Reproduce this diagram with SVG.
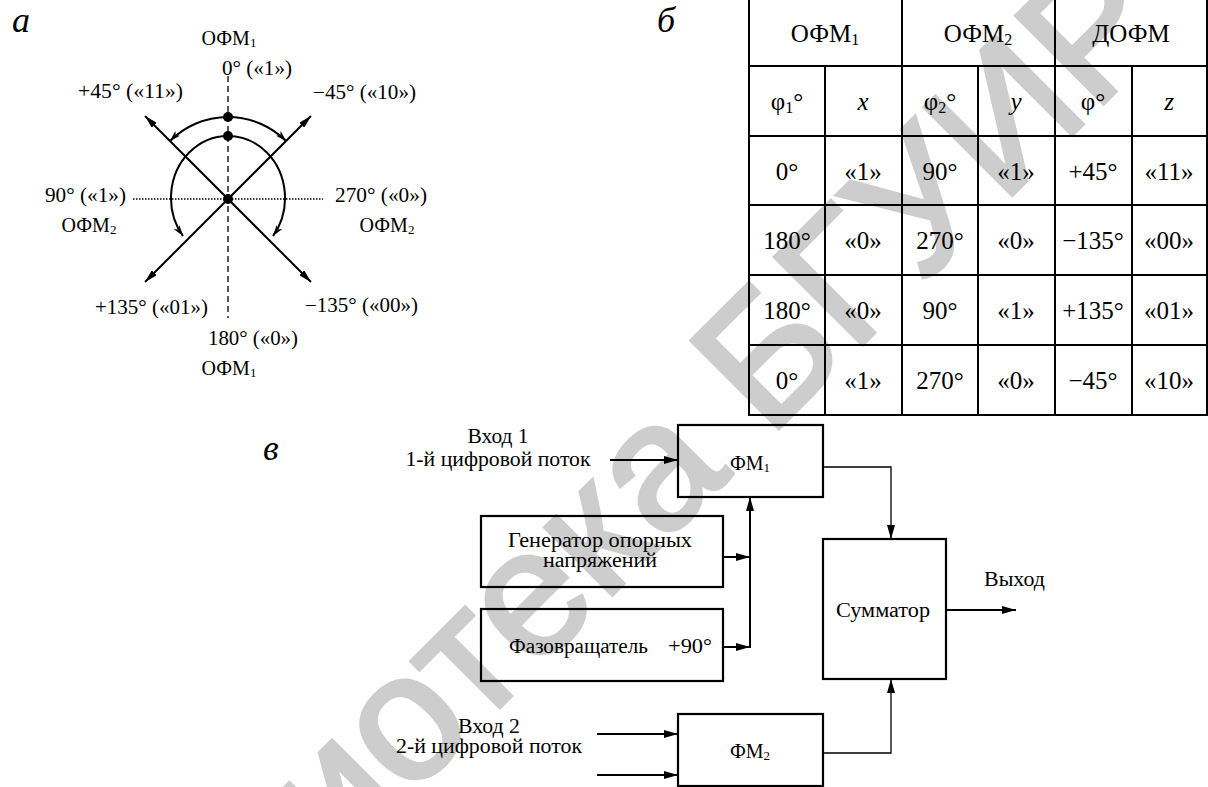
<svg xmlns="http://www.w3.org/2000/svg" width="1208" height="787" viewBox="0 0 1208 787" font-family="'Liberation Serif', 'Times New Roman', serif">
<defs>
<style>
text, tspan {font-family:'Liberation Serif','Times New Roman',serif}
text{fill:#000}
.t20{font-size:20px}
.tb{font-size:25px}
.lbl{font-size:36px;font-style:italic}
.ln{stroke:#000;stroke-width:2;fill:none}
.thin{stroke:#000;stroke-width:1.3;fill:none}
.box{stroke:#000;stroke-width:2.2;fill:none}
text.wm{font-family:'Liberation Sans',Arial,sans-serif;font-size:180px;fill:#cdcdcd;stroke:#cdcdcd;stroke-width:4}
</style>
<marker id="ah" viewBox="0 0 14 8" markerWidth="14" markerHeight="8" refX="14" refY="4" orient="auto" markerUnits="userSpaceOnUse"><path d="M0,0 L14,4 L0,8 z" fill="#000"/></marker>
<marker id="ahs" viewBox="0 0 13 7" markerWidth="13" markerHeight="7" refX="13" refY="3.5" orient="auto-start-reverse" markerUnits="userSpaceOnUse"><path d="M0,0 L13,3.5 L0,7 z" fill="#000"/></marker>
<marker id="aha" viewBox="0 0 11 7" markerWidth="11" markerHeight="7" refX="11" refY="3.5" orient="auto-start-reverse" markerUnits="userSpaceOnUse"><path d="M0,0 L11,3.5 L0,7 L3,3.5 z" fill="#000"/></marker>
</defs>
<rect width="1208" height="787" fill="#fff"/>
<g id="watermark"><text class="wm" transform="translate(41,1166) rotate(-45)">Библиотека БГУИР</text></g>

<g id="panel-a">
<text class="lbl" x="12" y="32">а</text>
<line x1="228" y1="76" x2="228" y2="318" stroke="#000" stroke-width="1.3" stroke-dasharray="6,4"/>
<line x1="133" y1="199" x2="323" y2="199" stroke="#000" stroke-width="1.5" stroke-dasharray="1.5,1.5"/>
<path class="ln" d="M170,141 A82,82 0 0 1 286,141" marker-start="url(#aha)" marker-end="url(#aha)"/>
<path class="ln" d="M183,236 A57,62 0 1 1 273,236" marker-start="url(#aha)" marker-end="url(#aha)"/>
<line class="ln" x1="145" y1="116" x2="311" y2="282" marker-start="url(#ahs)" marker-end="url(#ahs)"/>
<line class="ln" x1="311" y1="116" x2="145" y2="282" marker-start="url(#ahs)" marker-end="url(#ahs)"/>
<circle cx="228" cy="117" r="5"/>
<circle cx="228" cy="136" r="5"/>
<circle cx="228" cy="199" r="5"/>
<text class="t20" x="229" y="45" text-anchor="middle">ОФМ<tspan font-size="13" dy="2">1</tspan></text>
<text class="t20" x="222" y="75" textLength="70" lengthAdjust="spacingAndGlyphs">0° («1»)</text>
<text class="t20" x="78" y="98" textLength="105" lengthAdjust="spacingAndGlyphs">+45° («11»)</text>
<text class="t20" x="313" y="99" textLength="103" lengthAdjust="spacingAndGlyphs">−45° («10»)</text>
<text class="t20" x="45" y="202" textLength="81" lengthAdjust="spacingAndGlyphs">90° («1»)</text>
<text class="t20" x="335" y="202" textLength="92" lengthAdjust="spacingAndGlyphs">270° («0»)</text>
<text class="t20" x="89" y="232" text-anchor="middle">ОФМ<tspan font-size="13" dy="2">2</tspan></text>
<text class="t20" x="387" y="232" text-anchor="middle">ОФМ<tspan font-size="13" dy="2">2</tspan></text>
<text class="t20" x="95" y="314" textLength="113" lengthAdjust="spacingAndGlyphs">+135° («01»)</text>
<text class="t20" x="305" y="312" textLength="113" lengthAdjust="spacingAndGlyphs">−135° («00»)</text>
<text class="t20" x="208" y="345" textLength="90" lengthAdjust="spacingAndGlyphs">180° («0»)</text>
<text class="t20" x="229" y="375" text-anchor="middle">ОФМ<tspan font-size="13" dy="2">1</tspan></text>
</g>

<g id="panel-b">
<text class="lbl" x="657" y="32">б</text>
<g id="table-grid" stroke="#000" stroke-width="2" fill="none">
<line x1="749" y1="0" x2="749" y2="416"/>
<line x1="825" y1="66" x2="825" y2="416"/>
<line x1="902" y1="0" x2="902" y2="416"/>
<line x1="978" y1="66" x2="978" y2="416"/>
<line x1="1055" y1="0" x2="1055" y2="416"/>
<line x1="1132" y1="66" x2="1132" y2="416"/>
<line x1="1207" y1="0" x2="1207" y2="416"/>
<line x1="748" y1="66" x2="1208" y2="66"/>
<line x1="748" y1="136" x2="1208" y2="136"/>
<line x1="748" y1="205" x2="1208" y2="205"/>
<line x1="748" y1="275" x2="1208" y2="275"/>
<line x1="748" y1="345" x2="1208" y2="345"/>
<line x1="748" y1="415" x2="1208" y2="415"/>
</g>
<g id="table-text">
<text class="tb" x="825" y="42" text-anchor="middle">ОФМ<tspan font-size="16" dy="3">1</tspan></text>
<text class="tb" x="978" y="42" text-anchor="middle">ОФМ<tspan font-size="16" dy="3">2</tspan></text>
<text class="tb" x="1131" y="42" text-anchor="middle">ДОФМ</text>
<text class="tb" x="787" y="110" text-anchor="middle">φ<tspan font-size="16" dy="3">1</tspan><tspan dy="-3">°</tspan></text>
<text class="tb" x="863" y="110" text-anchor="middle" font-style="italic">x</text>
<text class="tb" x="940" y="110" text-anchor="middle">φ<tspan font-size="16" dy="3">2</tspan><tspan dy="-3">°</tspan></text>
<text class="tb" x="1016" y="110" text-anchor="middle" font-style="italic">y</text>
<text class="tb" x="1093" y="110" text-anchor="middle">φ°</text>
<text class="tb" x="1169" y="110" text-anchor="middle" font-style="italic">z</text>

<text class="tb" x="787" y="180" text-anchor="middle">0°</text>
<text class="tb" x="863" y="180" text-anchor="middle">«1»</text>
<text class="tb" x="940" y="180" text-anchor="middle">90°</text>
<text class="tb" x="1016" y="180" text-anchor="middle">«1»</text>
<text class="tb" x="1093" y="180" text-anchor="middle">+45°</text>
<text class="tb" x="1169" y="180" text-anchor="middle">«11»</text>

<text class="tb" x="787" y="249" text-anchor="middle">180°</text>
<text class="tb" x="863" y="249" text-anchor="middle">«0»</text>
<text class="tb" x="940" y="249" text-anchor="middle">270°</text>
<text class="tb" x="1016" y="249" text-anchor="middle">«0»</text>
<text class="tb" x="1093" y="249" text-anchor="middle">−135°</text>
<text class="tb" x="1169" y="249" text-anchor="middle">«00»</text>

<text class="tb" x="787" y="319" text-anchor="middle">180°</text>
<text class="tb" x="863" y="319" text-anchor="middle">«0»</text>
<text class="tb" x="940" y="319" text-anchor="middle">90°</text>
<text class="tb" x="1016" y="319" text-anchor="middle">«1»</text>
<text class="tb" x="1093" y="319" text-anchor="middle">+135°</text>
<text class="tb" x="1169" y="319" text-anchor="middle">«01»</text>

<text class="tb" x="787" y="389" text-anchor="middle">0°</text>
<text class="tb" x="863" y="389" text-anchor="middle">«1»</text>
<text class="tb" x="940" y="389" text-anchor="middle">270°</text>
<text class="tb" x="1016" y="389" text-anchor="middle">«0»</text>
<text class="tb" x="1093" y="389" text-anchor="middle">−45°</text>
<text class="tb" x="1169" y="389" text-anchor="middle">«10»</text>
</g>
</g>

<g id="panel-c">
<text class="lbl" x="263" y="460">в</text>
<g id="fm1"><rect class="box" x="678" y="425" width="145" height="72"/><text class="t20" x="750" y="470" text-anchor="middle">ФМ<tspan font-size="13" dy="2">1</tspan></text></g>
<g id="gen"><rect class="box" x="481" y="516" width="242" height="71"/><text class="t20" x="600" y="547" text-anchor="middle" textLength="184" lengthAdjust="spacingAndGlyphs">Генератор опорных</text><text class="t20" x="600" y="567" text-anchor="middle" textLength="114" lengthAdjust="spacingAndGlyphs">напряжений</text></g>
<g id="phase"><rect class="box" x="481" y="609" width="242" height="72"/><text class="t20" x="509" y="653" textLength="139" lengthAdjust="spacingAndGlyphs">Фазовращатель</text><text class="t20" x="668" y="653" textLength="44" lengthAdjust="spacingAndGlyphs">+90°</text></g>
<g id="fm2"><rect class="box" x="678" y="714" width="145" height="72"/><text class="t20" x="750" y="758" text-anchor="middle">ФМ<tspan font-size="13" dy="2">2</tspan></text></g>
<g id="sum"><rect class="box" x="823" y="539" width="123" height="140"/><text class="t20" x="883" y="617" text-anchor="middle" textLength="94" lengthAdjust="spacingAndGlyphs">Сумматор</text></g>
<g id="in1"><text class="t20" x="498" y="443" text-anchor="middle" textLength="61" lengthAdjust="spacingAndGlyphs">Вход 1</text><text class="t20" x="498" y="466" text-anchor="middle" textLength="185" lengthAdjust="spacingAndGlyphs">1-й цифровой поток</text></g>
<g id="in2"><text class="t20" x="489" y="733" text-anchor="middle" textLength="62" lengthAdjust="spacingAndGlyphs">Вход 2</text><text class="t20" x="489" y="753" text-anchor="middle" textLength="186" lengthAdjust="spacingAndGlyphs">2-й цифровой поток</text></g>
<g id="out"><text class="t20" x="984" y="586" textLength="61" lengthAdjust="spacingAndGlyphs">Выход</text></g>
<g id="connectors">
<line class="ln" x1="610" y1="460" x2="678" y2="460" marker-end="url(#ah)"/>
<line class="ln" x1="723" y1="557" x2="750" y2="557" marker-end="url(#ah)"/>
<line class="ln" x1="723" y1="647" x2="750" y2="647" marker-end="url(#ah)"/>
<line class="ln" x1="750" y1="648" x2="750" y2="497" marker-end="url(#ah)"/>
<polyline class="thin" points="823,467 891,467 891,539" marker-end="url(#ah)"/>
<polyline class="thin" points="823,753 891,753 891,679" marker-end="url(#ah)"/>
<line class="ln" x1="946" y1="610" x2="1016" y2="610" marker-end="url(#ah)"/>
<line class="ln" x1="597" y1="734" x2="678" y2="734" marker-end="url(#ah)"/>
<line class="ln" x1="597" y1="775" x2="678" y2="775" marker-end="url(#ah)"/>
</g>
</g>
</svg>
